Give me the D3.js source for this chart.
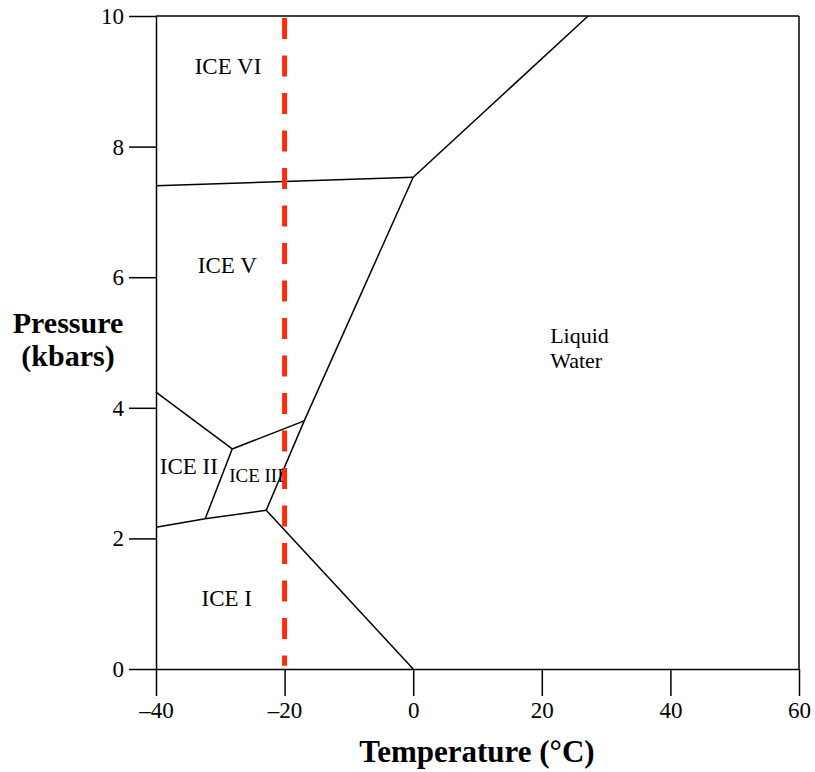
<!DOCTYPE html>
<html>
<head>
<meta charset="utf-8">
<script src="https://cdn.jsdelivr.net/npm/d3@7"></script>
<style>
  body { margin: 0; background: #fff; }
  svg text { font-family: "Liberation Serif", "Times New Roman", Times, serif; fill: #000; }
  .bound { fill: none; stroke: #000; stroke-width: 1.5; }
  .axis path, .axis line { stroke: #000; stroke-width: 1.5; }
  .axis text { font-size: 23px; }
</style>
</head>
<body>
<svg id="chart" width="815" height="772" font-family="Liberation Serif"></svg>
<script>
// Axis ticks
const tempTicks = [-40, -20, 0, 20, 40, 60];
const pressTicks = [0, 2, 4, 6, 8, 10];

// Phase boundaries, [temperature °C, pressure kbar]
const iceVIvsV = [[-40, 7.40], [0, 7.53]];
const liquidVsVI = [[0, 7.53], [27.2, 10]];
const liquidVsV = [[0, 7.53], [-16.95, 3.80]];
const iceVvsIII = [[-16.95, 3.80], [-28.15, 3.37]];
const iceIIvsV = [[-40, 4.24], [-28.15, 3.37]];
const iceIIvsIII = [[-28.15, 3.37], [-32.35, 2.30]];
const iceIIvsI = [[-40, 2.17], [-32.35, 2.30]];
const iceIIIvsI = [[-32.35, 2.30], [-22.86, 2.43]];
const liquidVsIII = [[-22.86, 2.43], [-16.95, 3.80]];
const liquidVsI = [[-22.86, 2.43], [0, 0]];
const boundaries = [iceVIvsV, liquidVsVI, liquidVsV, iceVvsIII, iceIIvsV,
  iceIIvsIII, iceIIvsI, iceIIIvsI, liquidVsIII, liquidVsI];

// Isotherm marked in red
const isotherm = [[-20, 10], [-20, 0.05]];

// Region labels
const phaseNames = ["ICE VI", "ICE V", "ICE II", "ICE III", "ICE I"];
const phaseTemps = [-28.8, -28.9, -34.9, -24.4, -29.0];
const phasePress = [9.23, 6.19, 3.11, 2.97, 1.09];
const liquidLines = ["Liquid", "Water"];

const svg = d3.select("#chart");
const margin = { left: 156, right: 16, top: 16, bottom: 103 };
const W = 815, H = 772;

const x = d3.scaleLinear().domain([-40, 60]).range([margin.left, W - margin.right]);
const y = d3.scaleLinear().domain([0, 10]).range([H - margin.bottom, margin.top]);

// Frame: top and right sides
svg.append("line").attr("class", "bound")
  .attr("x1", x(-40)).attr("x2", x(60)).attr("y1", y(10)).attr("y2", y(10));
svg.append("line").attr("class", "bound")
  .attr("x1", x(60)).attr("x2", x(60)).attr("y1", y(10)).attr("y2", y(0));

// Axes
svg.append("g").attr("class", "axis")
  .attr("transform", `translate(0,${y(0)})`)
  .call(d3.axisBottom(x).tickValues(tempTicks).tickSize(27).tickSizeOuter(0).tickPadding(4)
    .tickFormat(d => d < 0 ? "\u2013" + Math.abs(d) : d))
  .call(g => g.attr("font-family", null).attr("font-size", null))
  .call(g => g.selectAll("text").attr("dy", "0.78em"));

svg.append("g").attr("class", "axis")
  .attr("transform", `translate(${x(-40)},0)`)
  .call(d3.axisLeft(y).tickValues(pressTicks).tickSize(27).tickSizeOuter(0).tickPadding(5))
  .call(g => g.attr("font-family", null).attr("font-size", null))
  .call(g => g.selectAll("text").attr("dy", "0.33em"));

// Phase boundary lines
const line = d3.line().x(d => x(d[0])).y(d => y(d[1]));
svg.append("g").selectAll("path")
  .data(boundaries)
  .join("path")
  .attr("d", line)
  .attr("fill", "none")
  .attr("stroke", "#000")
  .attr("stroke-width", 1.5);

// Red dashed isotherm
svg.append("path")
  .datum(isotherm)
  .attr("d", line)
  .attr("fill", "none")
  .attr("stroke", "#ff2a0a")
  .attr("stroke-width", 5)
  .attr("stroke-dasharray", "21,16.5")
  .attr("stroke-dashoffset", -2);

// Phase labels
svg.append("g").selectAll("text")
  .data(phaseNames)
  .join("text")
  .attr("x", (d, i) => x(phaseTemps[i]))
  .attr("y", (d, i) => y(phasePress[i]))
  .attr("dy", "0.35em")
  .attr("text-anchor", "middle")
  .attr("font-size", d => d === "ICE III" ? 19 : 23)
  .text(d => d);

svg.append("g").selectAll("text")
  .data(liquidLines)
  .join("text")
  .attr("x", x(21.3))
  .attr("y", (d, i) => 343 + i * 25)
  .attr("font-size", 22)
  .text(d => d);

// Axis titles
svg.append("text")
  .attr("x", 477).attr("y", 762)
  .attr("text-anchor", "middle")
  .attr("font-size", 31).attr("font-weight", "bold")
  .text("Temperature (\u00B0C)");

const yTitle = svg.append("text")
  .attr("text-anchor", "middle")
  .attr("font-size", 30).attr("font-weight", "bold");
yTitle.append("tspan").attr("x", 68).attr("y", 333).text("Pressure");
yTitle.append("tspan").attr("x", 68).attr("y", 366).text("(kbars)");
</script>
</body>
</html>
